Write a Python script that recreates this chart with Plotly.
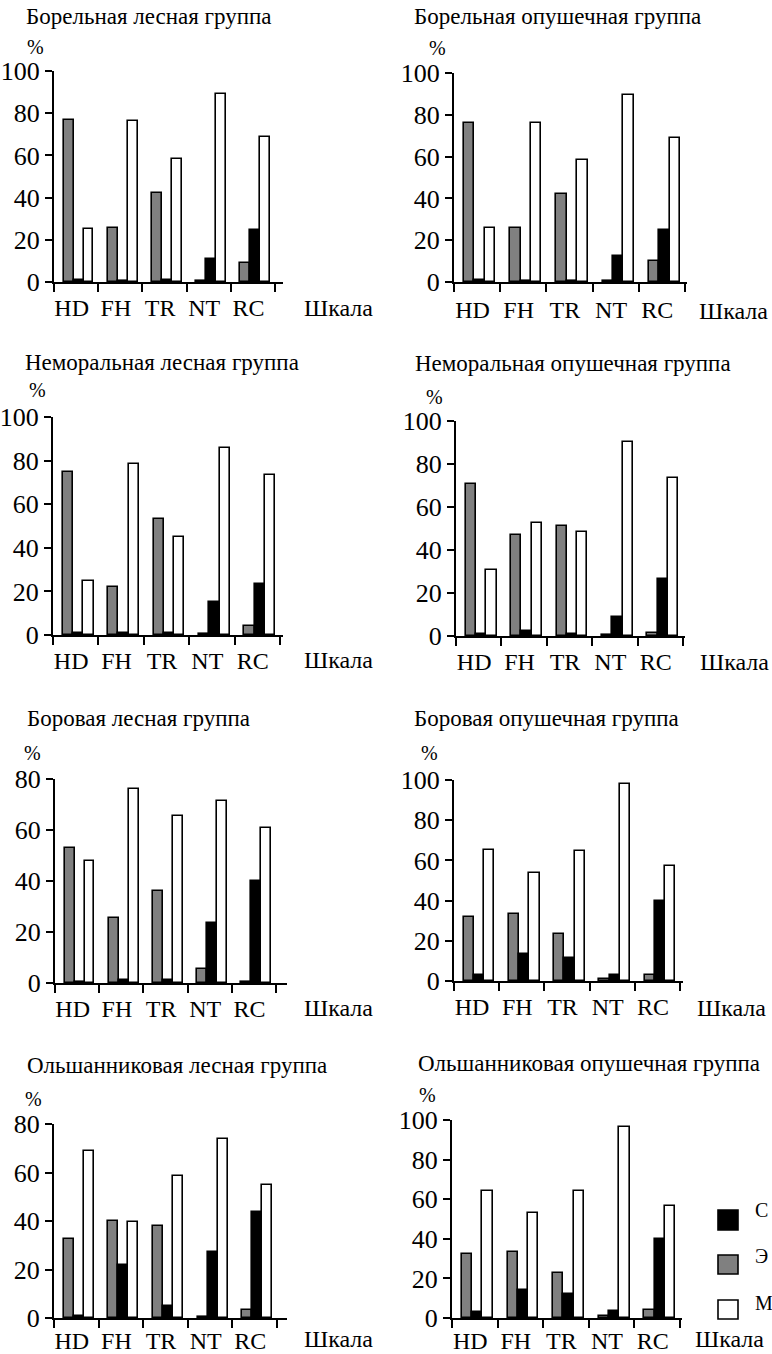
import plotly.graph_objects as go

W, H = 772, 1354
FONT = "Liberation Serif"

categories = ["HD", "FH", "TR", "NT", "RC"]
series_names = ["Э", "С", "М"]
series_colors = ["#808080", "#000000", "#ffffff"]

titles = [
    "Борельная лесная группа",
    "Борельная опушечная группа",
    "Неморальная лесная группа",
    "Неморальная опушечная группа",
    "Боровая лесная группа",
    "Боровая опушечная группа",
    "Ольшанниковая лесная группа",
    "Ольшанниковая опушечная группа",
]

# values: Э (gray), С (black), М (white) per scale HD, FH, TR, NT, RC
boreal_forest_E = [77, 25.5, 42, 0.5, 9]
boreal_forest_C = [1, 0.5, 1, 11, 24.7]
boreal_forest_M = [25.2, 76.3, 58.4, 89.2, 68.7]

boreal_edge_E = [76, 26, 42, 0.5, 10]
boreal_edge_C = [1, 0.5, 0.5, 12.3, 25]
boreal_edge_M = [25.7, 76, 58.5, 89.6, 68.9]

nemoral_forest_E = [75, 22.2, 53.3, 0.5, 4.1]
nemoral_forest_C = [1, 0.7, 1, 15.2, 23.6]
nemoral_forest_M = [25, 78.3, 45, 85.9, 73.4]

nemoral_edge_E = [70.5, 46.8, 51, 0.3, 1.2]
nemoral_edge_C = [1, 2.3, 1, 8.7, 26.5]
nemoral_edge_M = [30.7, 52.4, 48.3, 90.2, 73.3]

pine_forest_E = [53, 25.3, 36, 5.5, 0.5]
pine_forest_C = [0.5, 1, 1, 23.5, 40]
pine_forest_M = [47.8, 76, 65.3, 71.2, 60.7]

pine_edge_E = [31.7, 33.2, 23.2, 1, 3]
pine_edge_C = [3, 13.6, 11.4, 3, 40]
pine_edge_M = [65.3, 53.6, 64.8, 97.8, 57.4]

alder_forest_E = [32.5, 40, 38, 0.5, 3.4]
alder_forest_C = [1, 21.8, 4.8, 27.4, 43.6]
alder_forest_M = [69, 39.6, 58.6, 73.9, 54.8]

alder_edge_E = [32.3, 33.2, 22.8, 1, 4.2]
alder_edge_C = [2.8, 14.2, 12.2, 3.7, 40]
alder_edge_M = [64, 52.8, 64, 96.7, 56.7]

panel_values = [
    (boreal_forest_E, boreal_forest_C, boreal_forest_M),
    (boreal_edge_E, boreal_edge_C, boreal_edge_M),
    (nemoral_forest_E, nemoral_forest_C, nemoral_forest_M),
    (nemoral_edge_E, nemoral_edge_C, nemoral_edge_M),
    (pine_forest_E, pine_forest_C, pine_forest_M),
    (pine_edge_E, pine_edge_C, pine_edge_M),
    (alder_forest_E, alder_forest_C, alder_forest_M),
    (alder_edge_E, alder_edge_C, alder_edge_M),
]
y_max = [100, 100, 100, 100, 80, 100, 80, 100]

# layout geometry in pixels
geom = [
    dict(x0=54, x5=275, xe=283, y0=282, yt=71, tx=24, ty=17, px=35, py=47, ly=308, sx=338, tl=3),
    dict(x0=454, x5=685, xe=687, y0=282, yt=73, tx=412, ty=17, px=437, py=48, ly=311, sx=733, tl=5),
    dict(x0=53, x5=280, xe=283, y0=635, yt=417, tx=23, ty=362, px=37, py=390, ly=660, sx=338, tl=3),
    dict(x0=456, x5=683, xe=685, y0=636, yt=421, tx=413, ty=363, px=434, py=397, ly=662, sx=734, tl=3),
    dict(x0=55, x5=276, xe=287, y0=983, yt=779, tx=25, ty=718, px=32, py=753, ly=1008, sx=338, tl=3),
    dict(x0=454, x5=680, xe=683, y0=981, yt=780, tx=412, ty=718, px=429, py=753, ly=1008, sx=731, tl=3),
    dict(x0=54, x5=277, xe=287, y0=1318, yt=1124, tx=25, ty=1065, px=33, py=1099, ly=1339, sx=338, tl=0),
    dict(x0=452, x5=680, xe=682, y0=1318, yt=1120, tx=416, ty=1063, px=427, py=1095, ly=1339, sx=729, tl=0),
]


def fx(p):
    return p / W


def fy(p):
    return 1 - p / H


bar_offsets = [0.33, 0.555, 0.78]
bar_width = 0.225
label_offset = 0.4

fig = go.Figure()
annotations = []
layout_axes = {}

for k in range(8):
    g = geom[k]
    xa = "x" if k == 0 else f"x{k+1}"
    ya = "y" if k == 0 else f"y{k+1}"
    xkey = "xaxis" if k == 0 else f"xaxis{k+1}"
    ykey = "yaxis" if k == 0 else f"yaxis{k+1}"
    xr = 5 * (g["xe"] - g["x0"]) / (g["x5"] - g["x0"])
    for s in range(3):
        vals = panel_values[k][s]
        fig.add_trace(go.Bar(
            x=[i + bar_offsets[s] for i in range(len(categories))],
            y=vals,
            width=bar_width,
            name=series_names[s],
            marker=dict(color=series_colors[s], line=dict(color="black", width=1.6)),
            xaxis=xa, yaxis=ya,
            showlegend=False,
        ))
    layout_axes[xkey] = dict(
        domain=[fx(g["x0"]), fx(g["xe"])],
        range=[0, xr],
        anchor=ya,
        showgrid=False, zeroline=False,
        showline=True, linecolor="black", linewidth=2,
        tickmode="array",
        tickvals=[i + label_offset for i in range(len(categories))],
        ticktext=categories,
        ticks="outside", ticklen=g["tl"], tickcolor="rgba(0,0,0,0)",
        tickfont=dict(family=FONT, size=24, color="black"),
        minor=dict(tickmode="array", tickvals=list(range(6)), ticks="outside",
                   ticklen=8, tickwidth=2, tickcolor="black", showgrid=False),
        automargin=False, fixedrange=True,
    )
    layout_axes[ykey] = dict(
        domain=[fy(g["y0"]), fy(g["yt"])],
        range=[0, y_max[k]],
        anchor=xa,
        showgrid=False, zeroline=False,
        showline=True, linecolor="black", linewidth=2,
        tickmode="array", tickvals=list(range(0, y_max[k] + 1, 20)),
        ticks="outside", ticklen=7, tickwidth=2, tickcolor="black",
        tickfont=dict(family=FONT, size=26, color="black"),
        automargin=False, fixedrange=True,
    )
    annotations.append(dict(text=titles[k], x=fx(g["tx"]), y=fy(g["ty"]), xref="paper", yref="paper",
                            xanchor="left", yanchor="middle", showarrow=False,
                            font=dict(family=FONT, size=23, color="black")))
    annotations.append(dict(text="%", x=fx(g["px"]), y=fy(g["py"]), xref="paper", yref="paper",
                            xanchor="center", yanchor="middle", showarrow=False,
                            font=dict(family=FONT, size=20, color="black")))
    annotations.append(dict(text="Шкала", x=fx(g["sx"]), y=fy(g["ly"]), xref="paper", yref="paper",
                            xanchor="center", yanchor="middle", showarrow=False,
                            font=dict(family=FONT, size=24, color="black")))

# legend (drawn manually to match square size)
legend_order = [1, 0, 2]  # С, Э, М
legend_sq = [(718, 1210, 738, 1230), (718, 1255, 738, 1274), (718, 1300, 738, 1319)]
legend_txt_y = [1210, 1256, 1303]
shapes = []
for j, s in enumerate(legend_order):
    x0, y0, x1, y1 = legend_sq[j]
    shapes.append(dict(type="rect", xref="paper", yref="paper",
                       x0=fx(x0), x1=fx(x1), y0=fy(y1), y1=fy(y0),
                       fillcolor=series_colors[s], line=dict(color="black", width=1.6)))
    annotations.append(dict(text=series_names[s], x=fx(753), y=fy(legend_txt_y[j]), xref="paper", yref="paper",
                            xanchor="left", yanchor="middle", showarrow=False,
                            font=dict(family=FONT, size=20, color="black")))

fig.update_layout(
    width=W, height=H, autosize=False,
    margin=dict(l=0, r=0, t=0, b=0),
    font=dict(family=FONT, color="black"),
    paper_bgcolor="white", plot_bgcolor="white",
    barmode="overlay", bargap=0,
    annotations=annotations, shapes=shapes,
    showlegend=False,
    **layout_axes,
)

fig.write_html(
    "out.html",
    config={"displayModeBar": False},
    post_script="document.body.style.margin='0';document.body.style.overflow='hidden';",
)
